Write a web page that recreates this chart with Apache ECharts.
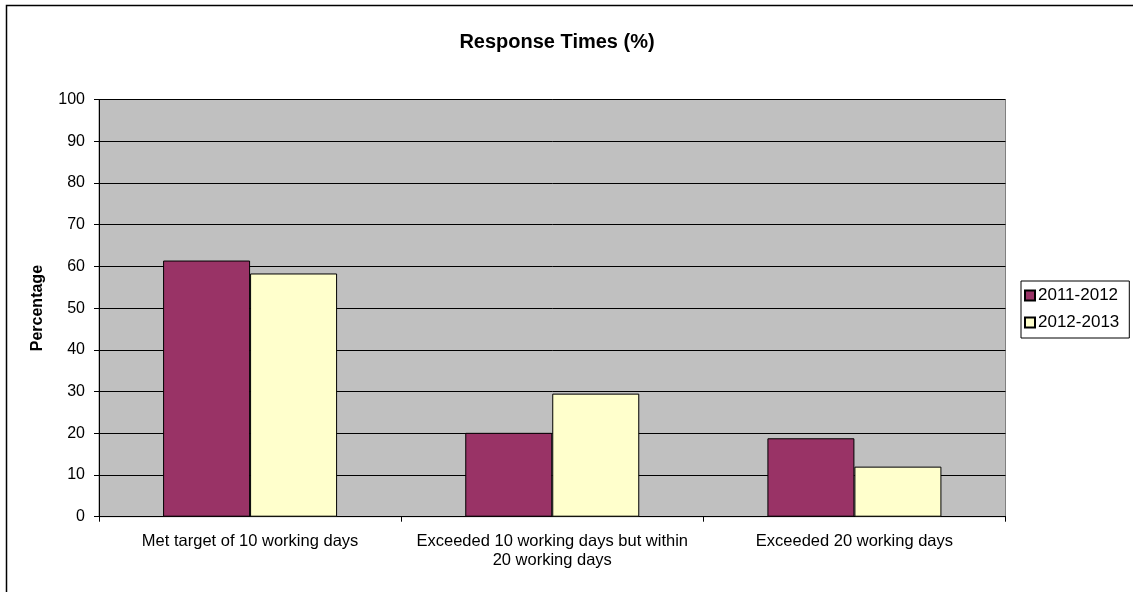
<!DOCTYPE html>
<html>
<head>
<meta charset="utf-8">
<script src="https://cdn.jsdelivr.net/npm/echarts@6/dist/echarts.min.js"></script>
<style>
  html, body { margin: 0; padding: 0; background: #fff; }
  #chart { width: 1133px; height: 592px; }
</style>
</head>
<body>
<div id="chart"></div>
<script>
// Response times by financial year
const categories = [
  'Met target of 10 working days',
  'Exceeded 10 working days but within\n20 working days',
  'Exceeded 20 working days'
];
const series2011 = [61.4, 20.1, 18.8];
const series2012 = [58.3, 29.5, 12.0];
const seriesNames = ['2011-2012', '2012-2013'];
const yTicks = [0, 10, 20, 30, 40, 50, 60, 70, 80, 90, 100];

const chart = echarts.init(document.getElementById('chart'), null, { renderer: 'canvas' });
const font = 'Arial, "Liberation Sans", sans-serif';

chart.setOption({
  animation: false,
  backgroundColor: '#ffffff',
  graphic: [{
    type: 'rect',
    shape: { x: 6.5, y: 5.5, width: 1140, height: 600 },
    style: { fill: 'none', stroke: '#000', lineWidth: 1.5 },
    silent: true
  }],
  title: {
    text: 'Response Times (%)',
    left: 552, top: 27, textAlign: 'center',
    textStyle: { fontFamily: font, fontSize: 20, fontWeight: 'bold', color: '#000' }
  },
  legend: {
    orient: 'vertical',
    left: 1021, top: 281,
    padding: [6, 10, 7, 3],
    itemGap: 10,
    itemWidth: 10, itemHeight: 10,
    icon: 'rect',
    borderColor: '#000', borderWidth: 1,
    backgroundColor: '#fff',
    textStyle: { fontFamily: font, fontSize: 17, color: '#000', padding: [0, 0, 0, -2] },
    data: seriesNames
  },
  grid: {
    left: 99, top: 99.5, right: 127.5, bottom: 75.3,
    show: true, backgroundColor: '#C0C0C0', borderColor: '#808080', borderWidth: 1
  },
  xAxis: {
    type: 'category',
    data: categories,
    axisLine: { lineStyle: { color: '#000', width: 1 } },
    axisTick: { show: true, length: 5, lineStyle: { color: '#000' } },
    axisLabel: { fontFamily: font, fontSize: 16.5, color: '#000', margin: 15, lineHeight: 19, interval: 0 }
  },
  yAxis: {
    type: 'value',
    min: yTicks[0], max: yTicks[yTicks.length - 1], interval: 10,
    name: 'Percentage',
    nameLocation: 'middle',
    nameGap: 53,
    nameTextStyle: { fontFamily: font, fontSize: 16, fontWeight: 'bold', color: '#000' },
    axisLine: { show: true, lineStyle: { color: '#000' } },
    axisTick: { show: true, length: 5, lineStyle: { color: '#000' } },
    axisLabel: { fontFamily: font, fontSize: 16, color: '#000', margin: 14 },
    splitLine: { show: true, lineStyle: { color: '#000', width: 1 } }
  },
  series: [
    {
      name: seriesNames[0], type: 'bar', data: series2011,
      barWidth: 87, barGap: '0%',
      itemStyle: { color: '#993366', borderColor: '#000', borderWidth: 1 }
    },
    {
      name: seriesNames[1], type: 'bar', data: series2012,
      barWidth: 87, barGap: '0%',
      itemStyle: { color: '#FFFFCC', borderColor: '#000', borderWidth: 1 }
    }
  ]
});
</script>
</body>
</html>
